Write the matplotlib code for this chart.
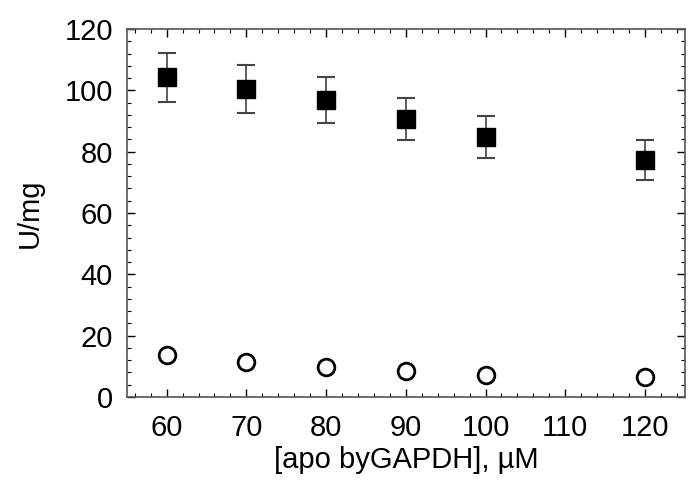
import matplotlib.pyplot as plt
from matplotlib.ticker import MultipleLocator

# data
conc = [60, 70, 80, 90, 100, 120]
activity_sq = [104.3, 100.4, 96.8, 90.6, 84.8, 77.3]
err_sq = [8.0, 7.8, 7.6, 6.8, 6.8, 6.5]
activity_circ = [13.7, 11.4, 9.8, 8.5, 7.2, 6.5]

xticks = [60, 70, 80, 90, 100, 110, 120]
yticks = [0, 20, 40, 60, 80, 100, 120]

plt.rcParams['font.family'] = ['Liberation Sans', 'DejaVu Sans']

fig = plt.figure(figsize=(6.89, 4.83), dpi=100)
ax = fig.add_axes([0.184, 0.178, 0.810, 0.762])

ax.errorbar(conc, activity_sq, yerr=err_sq, fmt='s', color='black',
            markersize=13, ecolor='#444444', elinewidth=1.2, capsize=6.5,
            capthick=1.5)
ax.plot(conc, activity_circ, 'o', markersize=12, markerfacecolor='white',
        markeredgecolor='black', markeredgewidth=2)

ax.set_xlim(55, 125)
ax.set_ylim(0, 120)
ax.set_xticks(xticks)
ax.set_yticks(yticks)
ax.xaxis.set_minor_locator(MultipleLocator(2))
ax.yaxis.set_minor_locator(MultipleLocator(4))
ax.tick_params(which='both', top=True, right=True, direction='in')
ax.tick_params(which='major', length=6, width=1, labelsize=21)
ax.tick_params(axis='x', which='major', pad=12)
ax.tick_params(axis='y', which='major', pad=10)
ax.tick_params(which='minor', length=3, width=0.8)
for s in ax.spines.values():
    s.set_linewidth(1.2)
    s.set_color('#555555')

ax.set_xlabel('[apo byGAPDH], \u00b5M', fontsize=21, labelpad=3)
ax.set_ylabel('U/mg', fontsize=21, labelpad=15)

fig.savefig('out.png', dpi=100)
